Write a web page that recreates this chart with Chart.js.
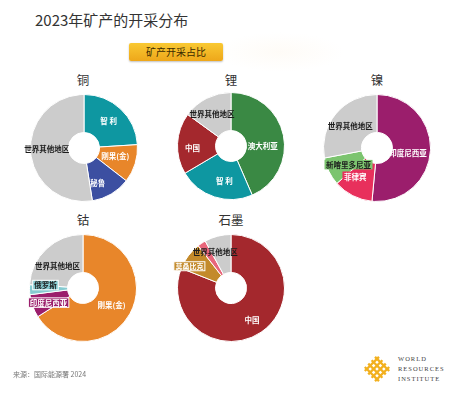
<!DOCTYPE html>
<html><head><meta charset="utf-8">
<script src="https://cdn.jsdelivr.net/npm/chart.js@4.4.1/dist/chart.umd.min.js"></script>
<style>
html,body{margin:0;padding:0;background:#fff;}
body{width:455px;height:395px;position:relative;overflow:hidden;font-family:"Noto Sans CJK SC","Noto Sans",sans-serif;}
.abs{position:absolute;white-space:nowrap;}
#title{left:35px;top:11px;font-size:15px;line-height:17px;color:#333;}
#btn{left:129px;top:43px;width:94px;height:18px;border-radius:2px;background:linear-gradient(#F9C933,#EEA71A);box-shadow:0 1px 2px rgba(0,0,0,0.25);font-size:10px;line-height:18px;text-align:center;color:#3a2a00;}
#glow{left:215px;top:32px;width:130px;height:40px;background:radial-gradient(ellipse at center,rgba(252,240,222,0.25),rgba(255,255,255,0) 70%);}
.sub{font-size:12.5px;line-height:14px;color:#333;text-align:center;width:60px;}
.wrap{position:absolute;width:150px;height:150px;}
#src{left:13px;top:370px;font-size:7px;line-height:9px;color:#777;}
#wri{left:398px;top:354px;font-family:"Liberation Serif",serif;font-size:6.5px;line-height:10px;letter-spacing:1px;color:#444;}
#logo{position:absolute;left:361px;top:353px;}
</style></head><body>
<div id="glow" class="abs"></div>
<div id="title" class="abs">2023年矿产的开采分布</div>
<div id="btn" class="abs">矿产开采占比</div>

<div class="abs sub" style="left:53px;top:73px;">铜</div>
<div class="abs sub" style="left:201px;top:73px;">锂</div>
<div class="abs sub" style="left:347px;top:73px;">镍</div>
<div class="abs sub" style="left:53px;top:213px;">钴</div>
<div class="abs sub" style="left:201px;top:213px;">石墨</div>

<div class="wrap" id="w1"><canvas id="c1" width="150" height="150"></canvas></div>
<div class="wrap" id="w2"><canvas id="c2" width="150" height="150"></canvas></div>
<div class="wrap" id="w3"><canvas id="c3" width="150" height="150"></canvas></div>
<div class="wrap" id="w4"><canvas id="c4" width="150" height="150"></canvas></div>
<div class="wrap" id="w5"><canvas id="c5" width="150" height="150"></canvas></div>

<div id="src" class="abs">来源：国际能源署 2024</div>
<canvas id="logo" width="32" height="32"></canvas>
<div id="wri" class="abs">WORLD<br>RESOURCES<br>INSTITUTE</div>

<script>
// ---- data (percent share of 2023 mine production) ----
const copperLabels = ['智 利', '刚果(金)', '秘鲁', '世界其他地区'];
const copperValues = [24, 11.5, 12, 52.5];

const lithiumLabels = ['澳大利亚', '智 利', '中国', '世界其他地区'];
const lithiumValues = [43.5, 23, 18.5, 15];

const nickelLabels = ['印度尼西亚', '菲律宾', '新喀里多尼亚', '世界其他地区'];
const nickelValues = [51.5, 12, 8.5, 28];

const cobaltLabels = ['刚果(金)', '印度尼西亚', '俄罗斯', '世界其他地区'];
const cobaltValues = [66, 7, 3, 24];

const graphiteLabels = ['中国', '莫桑比克', '马达加斯加', '世界其他地区'];
const graphiteValues = [81, 8.5, 2.5, 8];

// ---- styles ----
const GRAY = '#CCCCCC', DARK = '#1c1c1c', WHITE = '#ffffff';
const copperColors = ['#0E97A1', '#E8862A', '#3C4FA1', GRAY];
const lithiumColors = ['#3A8944', '#0E97A1', '#A4282D', GRAY];
const nickelColors = ['#9B1E6C', '#E8305C', '#7CC46F', GRAY];
const cobaltColors = ['#E8862A', '#9B1E6C', '#86CBD1', GRAY];
const graphiteColors = ['#A4282D', '#C38A2B', '#E8667B', GRAY];

// label placement relative to each arc: angle tweak (deg), radius (px at r=54)
const copperLbl = [
  {dA:-1, r:37, color:WHITE}, {dA:-3.6, r:32.5, color:WHITE},
  {dA:9, r:37.4, color:WHITE}, {dA:3.3, r:37.5, color:DARK}];
const lithiumLbl = [
  {dA:11.7, r:32, color:WHITE}, {dA:-7.3, r:36, color:WHITE},
  {dA:-5.3, r:39, color:WHITE}, {dA:-3.5, r:38, color:DARK}];
const nickelLbl = [
  {dA:6, r:31.7, color:WHITE}, {dA:10.7, r:36, color:WHITE, bg:'#E8305C'},
  {dA:-4.2, r:33.3, color:DARK, bg:'#7CC46F'}, {dA:0.2, r:35, color:DARK}];
const cobaltLbl = [
  {dA:1.8, r:33.4, color:WHITE}, {dA:-3.2, r:37.7, color:WHITE, bg:'#9B1E6C', border:true},
  {dA:6.3, r:38, color:DARK, bg:'#86CBD1', border:true}, {dA:-5.8, r:34, color:DARK}];
const graphiteLbl = [
  {dA:0.6, r:38.4, color:WHITE}, {dA:-9.3, r:47.4, color:WHITE, bg:'#C38A2B', border:true, size:7},
  null, {dA:-9.4, r:39.7, color:DARK}];

function labelPlugin(styles){
  return {
    id:'sliceLabels',
    afterDatasetsDraw(chart){
      const ctx = chart.ctx;
      const meta = chart.getDatasetMeta(0);
      meta.data.forEach((arc,i)=>{
        const st = styles[i]; if(!st) return;
        const p = arc.getProps(['x','y','startAngle','endAngle','outerRadius'], true);
        const mid = (p.startAngle+p.endAngle)/2 + st.dA*Math.PI/180;
        const rr = st.r/54*p.outerRadius;
        const px = p.x + rr*Math.cos(mid), py = p.y + rr*Math.sin(mid);
        const text = chart.data.labels[i];
        const fs = st.size || 7.5;
        ctx.save();
        ctx.font = 'bold '+fs+'px "Noto Sans CJK SC", sans-serif';
        ctx.textAlign='center'; ctx.textBaseline='middle';
        if(st.bg){
          const w = ctx.measureText(text).width + 3, h = fs + 2;
          ctx.fillStyle = st.bg;
          ctx.fillRect(px-w/2, py-h/2, w, h);
          if(st.border){ ctx.strokeStyle='#fff'; ctx.lineWidth=1; ctx.strokeRect(px-w/2, py-h/2, w, h); }
        }
        ctx.fillStyle = st.color;
        ctx.fillText(text, px, py+0.5);
        ctx.restore();
      });
    }
  };
}

function makeDonut(wrapId, canvasId, cx, cy, labels, values, colors, lbl){
  const w = document.getElementById(wrapId);
  w.style.left = (cx-75)+'px'; w.style.top = (cy-75)+'px';
  new Chart(document.getElementById(canvasId), {
    type:'doughnut',
    data:{labels:labels, datasets:[{data:values, backgroundColor:colors, borderColor:'#ffffff', borderWidth:1}]},
    options:{responsive:false, animation:false, cutout:'29%', layout:{padding:21}, events:[],
      plugins:{legend:{display:false}, tooltip:{enabled:false}, title:{display:false}}},
    plugins:[labelPlugin(lbl)]
  });
}

makeDonut('w1','c1', 83.5, 147.5, copperLabels, copperValues, copperColors, copperLbl);
makeDonut('w2','c2', 231, 145.5, lithiumLabels, lithiumValues, lithiumColors, lithiumLbl);
makeDonut('w3','c3', 377, 147.5, nickelLabels, nickelValues, nickelColors, nickelLbl);
makeDonut('w4','c4', 83, 288, cobaltLabels, cobaltValues, cobaltColors, cobaltLbl);
makeDonut('w5','c5', 231, 288, graphiteLabels, graphiteValues, graphiteColors, graphiteLbl);

// WRI logo lattice
(function(){
  const c = document.getElementById('logo').getContext('2d');
  c.translate(16,16); c.rotate(Math.PI/4);
  c.strokeStyle = '#F2B01E'; c.lineWidth = 2.3; c.lineCap='butt';
  const pos = [-7.2,-2.4,2.4,7.2];
  pos.forEach(v=>{
    c.beginPath(); c.moveTo(v,-10); c.lineTo(v,10); c.stroke();
    c.beginPath(); c.moveTo(-10,v); c.lineTo(10,v); c.stroke();
  });
})();
</script>
</body></html>
